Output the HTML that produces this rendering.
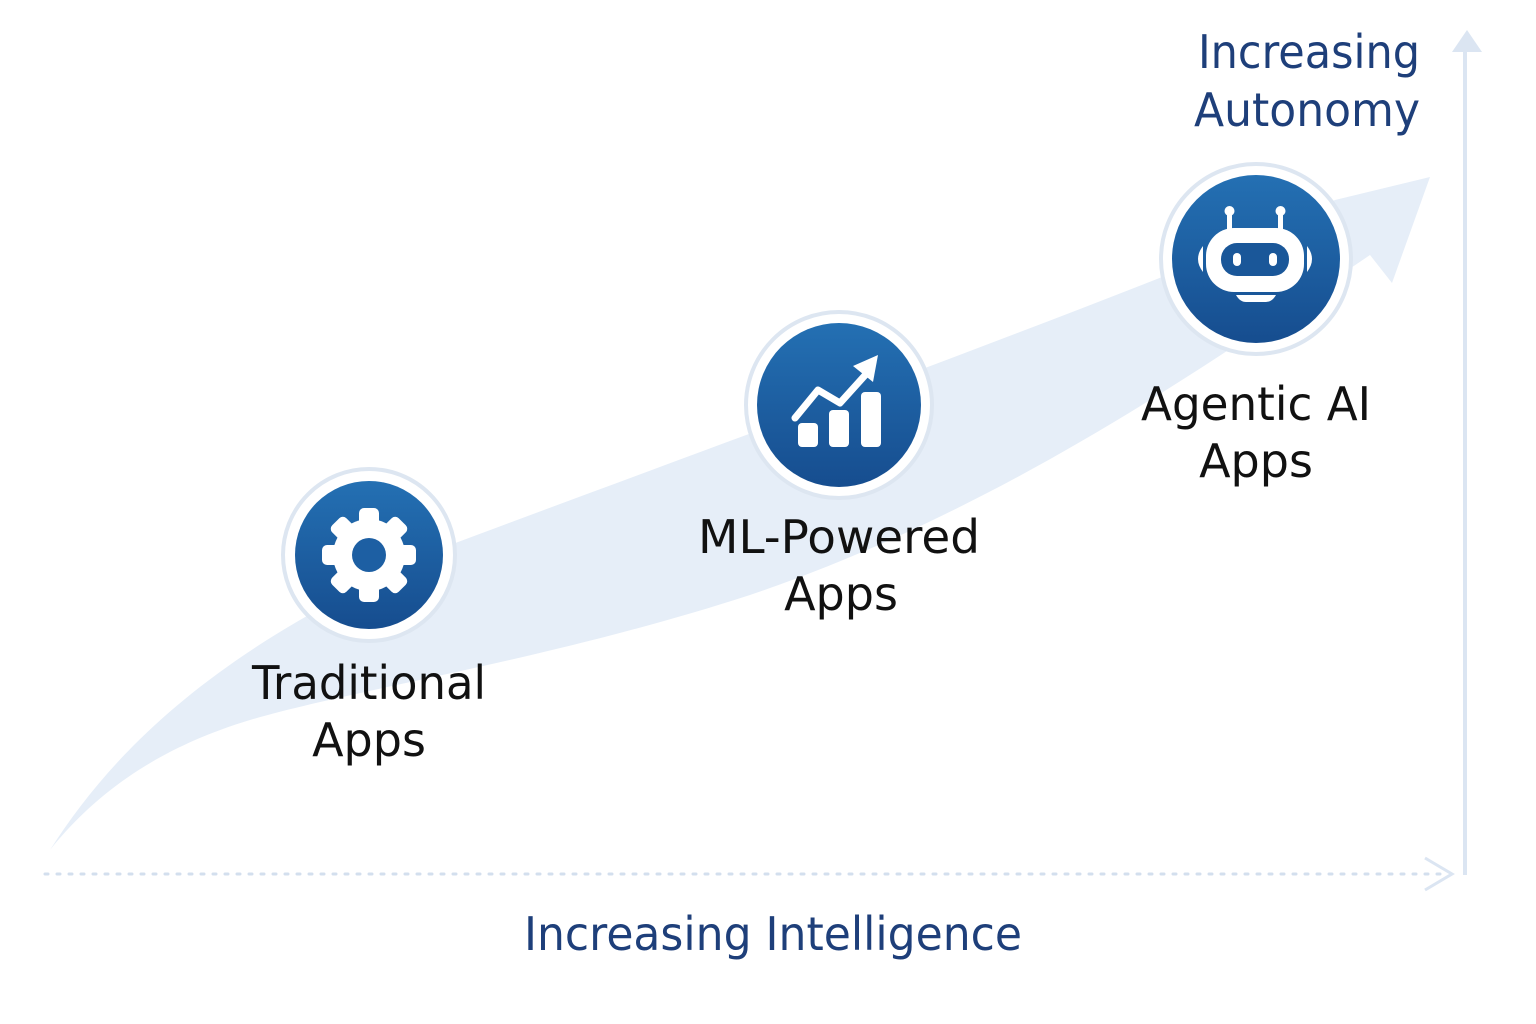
<!DOCTYPE html>
<html><head><meta charset="utf-8"><style>
html,body{margin:0;padding:0;background:#fff;}
svg{display:block}
text{font-family:"DejaVu Sans","Liberation Sans",sans-serif;}
</style></head><body>
<svg width="1536" height="1024" viewBox="0 0 1536 1024" xmlns="http://www.w3.org/2000/svg">
<defs>
<linearGradient id="g" x1="0" y1="0" x2="0" y2="1">
<stop offset="0" stop-color="#2470b3"/><stop offset="1" stop-color="#164d8f"/>
</linearGradient>
</defs>
<path d="M50,850 C120,740 230,640 450,545 C650,470 900,380 1180,270 L1335,200 L1430,177 L1392,283 L1370,255 C1200,370 1000,510 750,595 C550,660 350,690 250,720 C150,750 90,800 50,850 Z" fill="#e6eef8"/>
<line x1="45" y1="874" x2="1440" y2="874" stroke="#d3dfee" stroke-width="3" stroke-dasharray="3,9" stroke-linecap="round"/>
<path d="M1425,858 L1452,874 L1425,890" fill="none" stroke="#dbe5f2" stroke-width="3"/>
<line x1="1465" y1="875" x2="1465" y2="40" stroke="#dbe5f2" stroke-width="4"/>
<path d="M1452,52 L1467,30 L1482,52 Z" fill="#dbe5f2"/>
<circle cx="369" cy="555" r="86" fill="#fff" stroke="#dde6f1" stroke-width="4"/>
<circle cx="369" cy="555" r="74" fill="url(#g)"/>
<circle cx="839" cy="405" r="93" fill="#fff" stroke="#dde6f1" stroke-width="4"/>
<circle cx="839" cy="405" r="82" fill="url(#g)"/>
<circle cx="1256" cy="259" r="95" fill="#fff" stroke="#dde6f1" stroke-width="4"/>
<circle cx="1256" cy="259" r="84" fill="url(#g)"/>
<g transform="translate(369,555)" fill="#fff">
<g id="t"><rect x="-10" y="-47" width="20" height="18" rx="5"/></g>
<use href="#t" transform="rotate(45)"/><use href="#t" transform="rotate(90)"/><use href="#t" transform="rotate(135)"/>
<use href="#t" transform="rotate(180)"/><use href="#t" transform="rotate(225)"/><use href="#t" transform="rotate(270)"/><use href="#t" transform="rotate(315)"/>
<circle r="36"/>
<circle r="17" fill="#1d5fa3"/>
</g>
<g fill="#fff">
<rect x="798" y="423" width="20" height="24" rx="4"/>
<rect x="829" y="410" width="20" height="37" rx="4"/>
<rect x="861" y="392" width="20" height="55" rx="4"/>
<path d="M795,418 L818,390 L840,403 L868,372" fill="none" stroke="#fff" stroke-width="7" stroke-linecap="round" stroke-linejoin="round"/>
<path d="M853,366 L878,355 L873,382 Z"/>
</g>
<g fill="#fff">
<rect x="1227" y="215" width="5" height="15"/><circle cx="1229.5" cy="211" r="5"/>
<rect x="1278" y="215" width="5" height="15"/><circle cx="1280.5" cy="211" r="5"/>
<rect x="1206" y="228" width="98" height="64" rx="28"/>
<rect x="1221" y="243" width="68" height="33" rx="16" fill="#1a5799"/>
<rect x="1233" y="253" width="8" height="13" rx="4"/>
<rect x="1269" y="253" width="8" height="13" rx="4"/>
<path d="M1203,246 Q1193,259 1203,272 Z"/>
<path d="M1307,246 Q1317,259 1307,272 Z"/>
<path d="M1236,295 L1276,295 Q1272,302 1266,302 L1246,302 Q1240,302 1236,295 Z"/>
</g>
<g font-size="46" fill="#111" text-anchor="middle">
<text x="369" y="699" textLength="234" lengthAdjust="spacingAndGlyphs">Traditional</text><text x="369" y="756">Apps</text>
<text x="839" y="553" textLength="282" lengthAdjust="spacingAndGlyphs">ML-Powered</text><text x="841" y="610">Apps</text>
<text x="1256" y="420" textLength="230" lengthAdjust="spacingAndGlyphs">Agentic AI</text><text x="1256" y="477">Apps</text>
</g>
<g font-size="46" fill="#1e3f7a">
<text x="1420" y="68" text-anchor="end" textLength="222" lengthAdjust="spacingAndGlyphs">Increasing</text>
<text x="1420" y="126" text-anchor="end" textLength="226" lengthAdjust="spacingAndGlyphs">Autonomy</text>
<text x="773" y="950" text-anchor="middle" textLength="498" lengthAdjust="spacingAndGlyphs">Increasing Intelligence</text>
</g>
</svg>
</body></html>
